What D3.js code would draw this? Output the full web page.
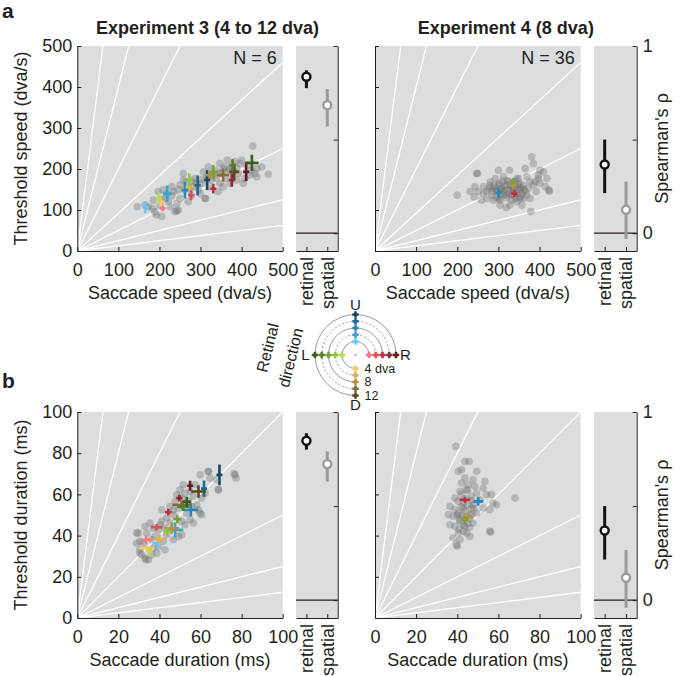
<!DOCTYPE html>
<html>
<head>
<meta charset="utf-8">
<script src="https://cdn.jsdelivr.net/npm/d3@7"></script>
<style>
body { margin: 0; background: #fff; }
text { font-family: "Liberation Sans", Arial, Helvetica, sans-serif; font-size: 18px; fill: #231f20; }
</style>
</head>
<body>
<svg id="fig" width="681" height="676"></svg>
<script>
// ---- data ----
var directions = ["U", "R", "D", "L"];
var amplitudes = [4, 6, 8, 10, 12];
var rhoConds = ["retinal", "spatial"];

// reference lines (threshold / saccade ratio)
var speedSlopes = [8, 4, 2, 0.92, 0.5, 0.25, 0.125];
var durationSlopes = [8, 4, 2, 1, 0.5, 0.25, 0.125];

// condition means: [direction, amplitude, x, x SE, y, y SE]
var exp3SpeedMeans = [
    ["U", 4, 165, 3, 107, 15], ["U", 6, 219, 10, 140, 20], ["U", 8, 262, 8, 148, 20], ["U", 10, 293, 3, 160, 24], ["U", 12, 316, 3, 173, 24],
    ["R", 4, 208, 4, 104, 6], ["R", 6, 277, 3, 136, 12], ["R", 8, 331, 3, 152, 12], ["R", 10, 376, 3, 173, 16], ["R", 12, 411, 3, 193, 22],
    ["D", 4, 203, 10, 120, 10], ["D", 6, 273, 10, 156, 6], ["D", 8, 323, 12, 185, 6], ["D", 10, 355, 15, 185, 16], ["D", 12, 382, 12, 193, 20],
    ["L", 4, 199, 3, 129, 14], ["L", 6, 273, 4, 173, 16], ["L", 8, 331, 10, 193, 16], ["L", 10, 378, 4, 209, 15], ["L", 12, 425, 16, 215, 20]
];
var exp3DurationMeans = [
    ["U", 4, 39, 2.4, 36.3, 2.8], ["U", 6, 47.6, 4, 42.8, 3.6], ["U", 8, 55.3, 3.5, 52.5, 3.2], ["U", 10, 61.7, 1, 62.8, 4], ["U", 12, 69.2, 1, 69.5, 5],
    ["R", 4, 33.5, 2.8, 38, 2], ["R", 6, 38.7, 2.7, 44.1, 1.5], ["R", 8, 44.3, 1.6, 51.4, 1.6], ["R", 10, 49.7, 1.5, 58.2, 1.6], ["R", 12, 54.9, 1, 64.2, 2.4],
    ["D", 4, 33.8, 3.6, 33.9, 1.3], ["D", 6, 40, 3, 38.3, 2.4], ["D", 8, 46, 3.6, 43.6, 2.7], ["D", 10, 50.8, 4.5, 55, 2], ["D", 12, 59, 3.6, 61.4, 3],
    ["L", 4, 35.1, 1, 32.3, 2.4], ["L", 6, 43.8, 2, 42, 2], ["L", 8, 48.7, 2, 48, 2], ["L", 10, 51.5, 3, 54, 2], ["L", 12, 53.3, 2, 56.5, 2.4]
];
var exp4SpeedMeans = [
    ["U", 8, 300, 2, 142, 12], ["R", 8, 339, 3, 140, 8], ["D", 8, 336, 3, 163, 12], ["L", 8, 335, 3, 170, 5]
];
var exp4DurationMeans = [
    ["U", 8, 50.2, 2.4, 56.6, 2.1], ["R", 8, 43.7, 2.6, 57.4, 0.8], ["D", 8, 44.8, 2, 49, 2], ["L", 8, 43.7, 1.6, 47.7, 1]
];

// individual observers x conditions: [x, y]
var exp3SpeedDots = [
    [165,112],[189,96],[192,88],[185,124],[197,145],[209,149],[213,128],[222,120],[226,108],[238,96],[242,116],[234,145],
    [230,157],[246,149],[250,128],[258,173],[258,189],[266,169],[270,120],[274,153],[282,157],[286,177],[295,149],[303,165],
    [307,193],[311,128],[319,205],[323,157],[327,173],[335,197],[339,177],[343,145],[347,213],[347,165],[355,157],[362,177],
    [365,222],[368,193],[372,165],[376,209],[384,218],[388,173],[392,189],[396,213],[404,165],[408,177],[412,209],[420,185],
    [427,256],[432,189],[437,201],[449,205],[465,187],[183,104],[201,112],[173,108],[218,140],[250,161],[278,136],[299,140],
    [315,181],[351,189],[359,205],[388,201],[400,222],[424,197],[437,181],[205,84],[246,100],[146,108],[312,128],[242,98],
    [290,165],[318,180],[345,190],[370,200],[262,150],[280,170],[300,175],[330,185],[355,200],[380,195],[230,135],[205,125]
];
var exp4SpeedDots = [
    [200,136],[247,189],[243,157],[241,132],[264,157],[259,124],[272,145],[278,153],[284,136],[292,177],[300,197],[302,165],
    [312,181],[316,161],[320,136],[327,197],[328,112],[319,106],[337,145],[345,177],[349,161],[357,112],[353,132],[365,201],
    [369,181],[373,153],[377,128],[379,96],[381,230],[385,213],[389,169],[392,145],[397,185],[401,197],[414,157],[418,177],
    [422,149],[272,128],[288,124],[304,124],[304,112],[332,124],[345,120],[361,128],[365,145],[377,169],[288,153],[312,145],
    [324,169],[341,128],[353,149],[385,161],[401,165],[264,140],[251,145],[231,145],[308,153],[349,177],[369,136],[332,157],
    [296,145],[361,161],[280,169],[397,177],[410,193],[249,189],[424,146],
    [295,150],[305,138],[315,150],[325,140],[335,150],[345,140],[355,155],[300,160],[310,170],[320,130],[330,160],[340,170],
    [350,165],[285,145],[295,130],[305,150],[318,158],[328,148],[338,135],[348,150],[358,140],[290,160],[312,138],[322,172],
    [342,158],[352,128],[302,128],[332,138],[362,150],[280,160]
];
var exp3DurationDots = [
    [29.7,41.2],[30.5,37.2],[31.3,30.7],[33,29.1],[34.6,28.3],[35.4,46.1],[36.2,30.7],[37,33.9],[37.8,39.6],[39.5,42.8],
    [41.1,46.9],[41.9,37.2],[42.7,33.1],[43.5,40.4],[45.1,46.1],[45.1,54.1],[46.8,50.1],[47.6,56.6],[48.4,59.8],[49.2,39.6],
    [50.8,46.9],[51.6,64.7],[52.4,60.6],[53.3,50.9],[54.1,56.6],[56.5,46.1],[56.5,59],[58.1,55],[59.8,69.5],[59.8,50.9],
    [60.6,58.2],[62.2,60.6],[63.8,71.1],[64.6,67.9],[68.7,62.2],[76.8,69.5],[77.3,67.9],[67.9,67.1],[30.5,33.1],[32.2,36.3],
    [33.8,41.2],[38.7,31.5],[40.3,45.3],[41.1,52.5],[43.5,48.5],[46.8,52.5],[49.2,53.3],[50.8,58.2],[52.4,45.3],[54.9,47.7],
    [39.5,34.7],[36.2,38],[50,62.2],[54.9,61.4],[57.3,64.7],[42.7,43.6],[46.8,38],[50.8,40.4],[37,43.6],[28.9,36.3],
    [33,44.4],[55.7,54.1],[58.9,52.5],[60.6,50.1],[33.4,28.3],[30.5,31.5],[28.9,41.3],[76.3,70],[68.7,62.3],[63.8,71.2]
];
var exp4DurationDots = [
    [39.3,83.3],[43.7,76],[45.8,76],[40.5,71.2],[42.1,72],[49.4,71.2],[43.7,68],[47.7,67.1],[48.5,63.9],[41.3,61.5],
    [44.5,62.3],[52.6,63.1],[54.2,59.9],[56.6,59.9],[57.4,55.8],[59.1,55],[52.6,53.4],[55.8,52.6],[36.4,54.2],[35.6,50.2],
    [38,49.3],[36.4,45.3],[38.8,44.5],[40.5,41.3],[38,38.8],[39.6,35.6],[41.3,38],[46.1,39.6],[55.8,42.1],[68,58.2],
    [46.9,59.1],[40.5,56.6],[42.9,53.4],[46.9,53.4],[49.4,51],[40.5,51],[43.7,44.5],[41.3,46.9],[38.8,52.6],[47.7,46.1],
    [44.5,41.3],[51,57.4],[53.4,66.3],[45.3,64.7],[38.8,58.2],[46.1,50.2],[49.4,60.7],[42.1,65.5],[47.7,55],[40,34.8],
    [56.2,41.7],[42,50],[44,52],[46,48],[43,45],[45,55],[47,50],[41,48],[44,58],[42,54],[46,44],[43,42],[45,46],[48,53],
    [40,50],[44,49],[47,57],[42,60],[45,62],[41,43],[43,56]
];

// Spearman's rho: [condition, rho, lower, upper]
var rhoExp3Speed = [["retinal", 0.836, 0.775, 0.87], ["spatial", 0.684, 0.57, 0.77]];
var rhoExp4Speed = [["retinal", 0.367, 0.214, 0.5], ["spatial", 0.125, -0.03, 0.276]];
var rhoExp3Duration = [["retinal", 0.847, 0.80, 0.887], ["spatial", 0.723, 0.63, 0.79]];
var rhoExp4Duration = [["retinal", 0.37, 0.216, 0.5], ["spatial", 0.119, -0.04, 0.266]];

var speedTicks = [0, 100, 200, 300, 400, 500];
var durationTicks = [0, 20, 40, 60, 80, 100];
var rhoTicks = [0, 0.5, 1];
var legendLabels = [["4 dva", 4], ["8", 8], ["12", 12]];

// ---- styles ----
var dirColors = {
    U: ["#66c9f0", "#3ba1d3", "#2887b6", "#1d6a8b", "#164a60"],
    R: ["#f17b85", "#da4f5b", "#b7333f", "#902836", "#621b25"],
    D: ["#f7c96b", "#ddb054", "#b98f40", "#8b6d2e", "#5b491e"],
    L: ["#b7d95c", "#94c43e", "#73a335", "#567f2c", "#3c5a21"]
};
var bg = "#dcdddf";
var ink = "#231f20";

var svg = d3.select("#fig");

function colorOf(d) {
    return dirColors[d[0]][amplitudes.indexOf(d[1])];
}

function drawPanel(p) {
    var g = svg.append("g");
    var x = d3.scaleLinear().domain([0, p.max]).range([p.left, p.right]);
    var y = d3.scaleLinear().domain([0, p.max]).range([p.bottom, p.top]);

    g.append("rect")
        .attr("x", p.left).attr("y", p.top)
        .attr("width", p.right - p.left).attr("height", p.bottom - p.top)
        .attr("fill", bg);

    var clipId = "clip" + p.id;
    g.append("clipPath").attr("id", clipId).append("rect")
        .attr("x", p.left).attr("y", p.top)
        .attr("width", p.right - p.left).attr("height", p.bottom - p.top);

    var inner = g.append("g").attr("clip-path", "url(#" + clipId + ")");
    inner.selectAll("line.ratio").data(p.slopes).enter().append("line")
        .attr("class", "ratio")
        .attr("x1", x(0)).attr("y1", y(0))
        .attr("x2", x(p.max)).attr("y2", function(s) { return y(p.max * s); })
        .attr("stroke", "#fff").attr("stroke-width", 1.3);

    inner.selectAll("circle.dot").data(p.dots).enter().append("circle")
        .attr("class", "dot")
        .attr("cx", function(d) { return x(d[0]); })
        .attr("cy", function(d) { return y(d[1]); })
        .attr("r", 3.8)
        .attr("fill", "#6e6e6e")
        .attr("fill-opacity", 0.35);

    var crosses = inner.selectAll("g.cross").data(p.means).enter().append("g").attr("class", "cross");
    crosses.append("line")
        .attr("x1", function(d) { return x(d[2]) - Math.max(x(d[3]) - x(0), 3); })
        .attr("x2", function(d) { return x(d[2]) + Math.max(x(d[3]) - x(0), 3); })
        .attr("y1", function(d) { return y(d[4]); })
        .attr("y2", function(d) { return y(d[4]); })
        .attr("stroke", colorOf).attr("stroke-width", 2.6);
    crosses.append("line")
        .attr("x1", function(d) { return x(d[2]); })
        .attr("x2", function(d) { return x(d[2]); })
        .attr("y1", function(d) { return y(d[4]) - Math.max(y(0) - y(d[5]), 3); })
        .attr("y2", function(d) { return y(d[4]) + Math.max(y(0) - y(d[5]), 3); })
        .attr("stroke", colorOf).attr("stroke-width", 2.6);

    var xAxis = g.append("g")
        .attr("transform", "translate(0," + p.bottom + ")")
        .call(d3.axisBottom(x).tickValues(p.ticks).tickSizeInner(-4).tickSizeOuter(0).tickPadding(12));
    var yAxis = g.append("g")
        .attr("transform", "translate(" + p.left + ",0)")
        .call(d3.axisLeft(y).tickValues(p.ticks).tickSizeInner(-4).tickSizeOuter(0).tickPadding(5)
            .tickFormat(p.yLabels ? d3.format("d") : ""));
    [xAxis, yAxis].forEach(function(a) {
        a.attr("font-size", null).attr("font-family", null).attr("color", ink);
    });

    g.append("text")
        .attr("x", (p.left + p.right) / 2).attr("y", p.bottom + 48)
        .attr("text-anchor", "middle")
        .text(p.xTitle);
    if (p.yTitle) {
        g.append("text")
            .attr("transform", "translate(27," + ((p.top + p.bottom) / 2) + ") rotate(-90)")
            .attr("text-anchor", "middle")
            .text(p.yTitle);
    }
    if (p.nText) {
        g.append("text")
            .attr("x", p.right - 6).attr("y", p.top + 18)
            .attr("text-anchor", "end")
            .text(p.nText);
    }

    // Spearman inset
    var xc = d3.scalePoint().domain(rhoConds).range([p.ileft, p.iright]).padding(0.5);
    var yr = d3.scaleLinear().domain([-0.095, 1]).range([p.bottom, p.top]);
    g.append("rect")
        .attr("x", p.ileft).attr("y", p.top)
        .attr("width", p.iright - p.ileft).attr("height", p.bottom - p.top)
        .attr("fill", bg);
    g.append("line")
        .attr("x1", p.ileft).attr("x2", p.iright)
        .attr("y1", yr(0)).attr("y2", yr(0))
        .attr("stroke", ink).attr("stroke-width", 1.2);
    var rc = g.selectAll("g.rho").data(p.rho).enter().append("g").attr("class", "rho");
    var rcol = function(d) { return d[0] === "retinal" ? "#111" : "#9a9a9a"; };
    rc.append("line")
        .attr("x1", function(d) { return xc(d[0]); })
        .attr("x2", function(d) { return xc(d[0]); })
        .attr("y1", function(d) { return yr(d[2]); })
        .attr("y2", function(d) { return yr(d[3]); })
        .attr("stroke", rcol).attr("stroke-width", 3);
    rc.append("circle")
        .attr("cx", function(d) { return xc(d[0]); })
        .attr("cy", function(d) { return yr(d[1]); })
        .attr("r", 4)
        .attr("fill", "#fff").attr("stroke", rcol).attr("stroke-width", 2.4);

    var cAxis = g.append("g")
        .attr("transform", "translate(0," + p.bottom + ")")
        .call(d3.axisBottom(xc).tickSizeInner(-4).tickSizeOuter(0).tickFormat(""));
    var rAxis = g.append("g")
        .attr("transform", "translate(" + p.iright + ",0)")
        .call(d3.axisRight(yr).tickValues(rhoTicks).tickSizeInner(-4).tickSizeOuter(0).tickPadding(6)
            .tickFormat(function(d) { return p.rhoLabels && d !== 0.5 ? d : ""; }));
    [cAxis, rAxis].forEach(function(a) {
        a.attr("font-size", null).attr("font-family", null).attr("color", ink);
    });
    g.selectAll("text.cond").data(rhoConds).enter().append("text")
        .attr("class", "cond")
        .attr("transform", function(c) { return "translate(" + xc(c) + "," + (p.bottom + 6) + ") rotate(-90)"; })
        .attr("text-anchor", "end")
        .attr("dy", "0.35em")
        .text(function(c) { return c; });
    if (p.rhoLabels) {
        g.append("text")
            .attr("transform", "translate(668," + ((p.top + p.bottom) / 2) + ") rotate(-90)")
            .attr("text-anchor", "middle")
            .text("Spearman's \u03c1");
    }
}

var rowA = {top: 46, bottom: 251};
var rowB = {top: 412, bottom: 618};
var colL = {left: 77.3, right: 282.7, ileft: 296, iright: 337.7};
var colR = {left: 375, right: 580.7, ileft: 594, iright: 636.7};

drawPanel(Object.assign({id: "a3", max: 500, ticks: speedTicks, slopes: speedSlopes, dots: exp3SpeedDots,
    means: exp3SpeedMeans, rho: rhoExp3Speed, yLabels: true, rhoLabels: false, nText: "N = 6",
    xTitle: "Saccade speed (dva/s)", yTitle: "Threshold speed (dva/s)"}, rowA, colL));
drawPanel(Object.assign({id: "a4", max: 500, ticks: speedTicks, slopes: speedSlopes, dots: exp4SpeedDots,
    means: exp4SpeedMeans, rho: rhoExp4Speed, yLabels: false, rhoLabels: true, nText: "N = 36",
    xTitle: "Saccade speed (dva/s)"}, rowA, colR));
drawPanel(Object.assign({id: "b3", max: 100, ticks: durationTicks, slopes: durationSlopes, dots: exp3DurationDots,
    means: exp3DurationMeans, rho: rhoExp3Duration, yLabels: true, rhoLabels: false,
    xTitle: "Saccade duration (ms)", yTitle: "Threshold duration (ms)"}, rowB, colL));
drawPanel(Object.assign({id: "b4", max: 100, ticks: durationTicks, slopes: durationSlopes, dots: exp4DurationDots,
    means: exp4DurationMeans, rho: rhoExp4Duration, yLabels: false, rhoLabels: true,
    xTitle: "Saccade duration (ms)"}, rowB, colR));

// titles and panel letters
svg.append("text").attr("x", (colL.left + colL.iright) / 2).attr("y", 34)
    .attr("text-anchor", "middle").style("font-weight", "bold").text("Experiment 3 (4 to 12 dva)");
svg.append("text").attr("x", (colR.left + colR.iright) / 2).attr("y", 34)
    .attr("text-anchor", "middle").style("font-weight", "bold").text("Experiment 4 (8 dva)");
svg.append("text").attr("x", 2).attr("y", 18).style("font-weight", "bold").style("font-size", "21px").text("a");
svg.append("text").attr("x", 2).attr("y", 388).style("font-weight", "bold").style("font-size", "21px").text("b");

// retinal direction legend
var cx = 355.5, cy = 355;
var rScale = d3.scaleLinear().domain([0, 12]).range([0, 40.5]);
var leg = svg.append("g");
amplitudes.forEach(function(a) {
    var pth = d3.path();
    var r = rScale(a);
    pth.moveTo(cx, cy + r);
    pth.arc(cx, cy, r, Math.PI / 2, Math.PI * 2);
    leg.append("path").attr("d", pth.toString())
        .attr("fill", "none").attr("stroke", "#9a9a9a").attr("stroke-width", 1)
        .attr("stroke-dasharray", a % 4 === 0 ? null : "2,2");
});
leg.append("circle").attr("cx", cx).attr("cy", cy).attr("r", 1).attr("fill", "#9a9a9a");
var dirVec = {U: [0, -1], R: [1, 0], D: [0, 1], L: [-1, 0]};
directions.forEach(function(dir) {
    amplitudes.forEach(function(a, i) {
        var px = cx + dirVec[dir][0] * rScale(a), py = cy + dirVec[dir][1] * rScale(a);
        leg.append("path")
            .attr("d", "M" + (px - 3.2) + "," + py + "H" + (px + 3.2) + "M" + px + "," + (py - 3.2) + "V" + (py + 3.2))
            .attr("stroke", dirColors[dir][i]).attr("stroke-width", 2.6);
    });
    leg.append("text")
        .attr("x", cx + dirVec[dir][0] * 50).attr("y", cy + dirVec[dir][1] * 50)
        .attr("text-anchor", "middle").attr("dy", "0.36em")
        .style("font-size", "15px")
        .text(dir);
});
legendLabels.forEach(function(t) {
    leg.append("text")
        .attr("x", cx + 9).attr("y", cy + rScale(t[1]))
        .attr("dy", "0.33em").style("font-size", "12.5px")
        .text(t[0]);
});
leg.append("text").attr("transform", "translate(273,349) rotate(-76)")
    .attr("text-anchor", "middle").style("font-size", "16px").text("Retinal");
leg.append("text").attr("transform", "translate(296,359) rotate(-76)")
    .attr("text-anchor", "middle").style("font-size", "16px").text("direction");
</script>
</body>
</html>
